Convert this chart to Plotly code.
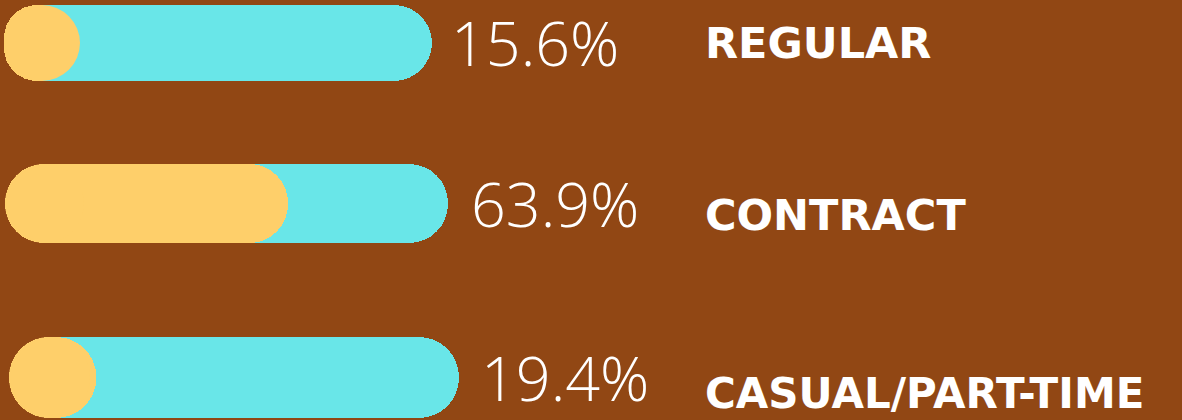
import plotly.graph_objects as go

# ---- data ----
categories = ["REGULAR", "CONTRACT", "CASUAL/PART-TIME"]
shares = [15.6, 63.9, 19.4]
share_labels = ["15.6%", "63.9%", "19.4%"]
track_total = [100, 100, 100]

# ---- style ----
BG = "#914714"
TRACK = "#69E6E8"
FILL = "#FECF6A"
W, H = 1182, 420

# pixel box of each row's track: left, right, top, bottom
boxes = [(4, 432, 5, 81), (5, 448, 164, 243), (9, 459, 337, 418)]
pct_gap = [17, 21, 20]
label_shift = [0, -12, -16]
label_size = [43, 43, 42]
LABEL_X = 703

fig = go.Figure()
layout_axes = {}
annotations = []
for i, (cat, val, txt, tot) in enumerate(zip(categories, shares, share_labels, track_total)):
    l, r, t, b = boxes[i]
    n = i + 1
    xa = "x" if n == 1 else f"x{n}"
    ya = "y" if n == 1 else f"y{n}"
    length = r - l
    thick = b - t
    rad = thick / 2 / length * tot  # cap radius in axis units

    # track (full 100%)
    fig.add_trace(go.Bar(
        y=[cat], x=[tot], base=[0], orientation="h", width=1,
        marker=dict(color=TRACK, cornerradius="50%", line_width=0),
        xaxis=xa, yaxis=ya, hoverinfo="skip", showlegend=False))
    # filled share
    fig.add_trace(go.Bar(
        y=[cat], x=[val], base=[0], orientation="h", width=1,
        marker=dict(color=FILL, cornerradius="50%", line_width=0),
        xaxis=xa, yaxis=ya, hoverinfo="skip", showlegend=False))
    # minimum round cap of the fill (for short shares)
    fig.add_trace(go.Scatter(
        y=[cat], x=[rad], mode="markers",
        marker=dict(size=thick, color=FILL, line_width=0),
        cliponaxis=False, xaxis=xa, yaxis=ya, hoverinfo="skip", showlegend=False))

    layout_axes["xaxis" if n == 1 else f"xaxis{n}"] = dict(
        domain=[l / W, r / W], range=[0, tot], visible=False, fixedrange=True, anchor=ya)
    layout_axes["yaxis" if n == 1 else f"yaxis{n}"] = dict(
        domain=[(H - b) / H, (H - t) / H], range=[-0.5, 0.5], visible=False,
        fixedrange=True, type="category", anchor=xa)

    annotations.append(dict(
        xref=xa, yref=ya, x=tot, y=cat, xanchor="left", yanchor="middle",
        xshift=pct_gap[i], text=txt, showarrow=False,
        font=dict(family="Open Sans", size=61, color="white", weight=300)))
    annotations.append(dict(
        xref="paper", yref=ya, x=LABEL_X / W, y=cat, xanchor="left", yanchor="middle",
        yshift=label_shift[i], text=cat, showarrow=False,
        font=dict(family="DejaVu Sans", size=label_size[i], color="white", weight="bold")))

fig.update_layout(
    width=W, height=H, autosize=False,
    margin=dict(l=0, r=0, t=0, b=0, pad=0),
    paper_bgcolor=BG, plot_bgcolor=BG,
    barmode="overlay", bargap=0, showlegend=False,
    annotations=annotations,
    **layout_axes,
)

fig.write_html("out.html", config={"displayModeBar": False, "staticPlot": True},
               post_script="document.body.style.margin='0';")
